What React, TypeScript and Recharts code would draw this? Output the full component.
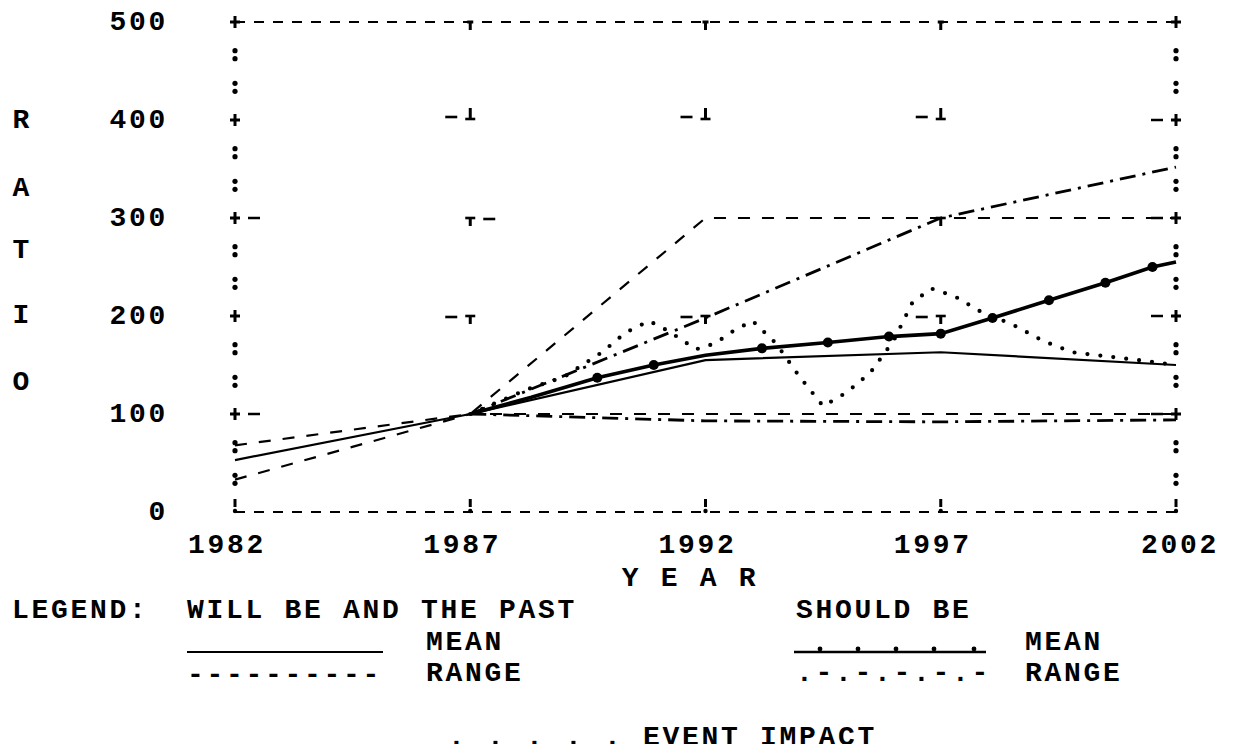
import React from 'react';
import { LineChart, Line, XAxis, YAxis, ReferenceDot } from 'recharts';

const FONT = '"Liberation Mono", "DejaVu Sans Mono", monospace';
const FS = 28;
const LS = 2.7;

// ---- categories / ticks ----
const yearTicks = [1982, 1987, 1992, 1997, 2002];
const topYearTicks = [1987, 1992, 1997];
const valueTicks = [0, 100, 200, 300, 400, 500];
const ratioLetters = ['R', 'A', 'T', 'I', 'O'];

// ---- WILL BE AND THE PAST ----
const willYears = [1982, 1987, 1992, 1997, 2002];
const willMeanValues = [53, 100, 155, 163, 150];
const willRangeHighValues = [68, 100, 300, 300, 300];
const willRangeLowValues = [33, 100, 100, 100, 100];

// ---- SHOULD BE ----
const shouldRangeYears = [1987, 1992, 1997, 2002];
const shouldRangeHighValues = [100, 198, 300, 352];
const shouldRangeLowValues = [100, 93, 92, 94];

const shouldMeanYears = [1987, 1988.3, 1989.7, 1990.9, 1992, 1993.2, 1994.6, 1995.9, 1997, 1998.1, 1999.3, 2000.5, 2001.5, 2002];
const shouldMeanValues = [100, 117, 137, 150, 160, 167, 173, 179, 182, 198, 216, 234, 250, 255];
const shouldMeanMarkerYears = [1989.7, 1990.9, 1993.2, 1994.6, 1995.9, 1997, 1998.1, 1999.3, 2000.5, 2001.5];

// ---- EVENT IMPACT ----
const eventYears = [1987, 1988.2, 1989, 1989.8, 1990.3, 1990.8, 1991.2, 1991.8, 1992.2, 1992.6, 1993, 1993.5, 1994, 1994.5, 1995, 1995.5, 1996, 1996.4, 1996.8, 1997.3, 1997.9, 1998.5, 1999.2, 1999.8, 2000.5, 2001.2, 2002];
const eventValues = [100, 125, 138, 163, 183, 195, 185, 166, 172, 185, 195, 172, 138, 108, 122, 142, 175, 214, 228, 220, 203, 192, 174, 163, 159, 155, 150];

// ---- grid glyph marks inside the frame ----
const gridMarkYears = [1987, 1992, 1997, 1987, 1997, 1987, 1992, 1997];
const gridMarkValues = [400, 400, 400, 300, 300, 200, 200, 200];
const gridMarkGlyphs = ['-L', '-L', '-L', 'T-', 'T', '-T', '-T', '-T'];

const toRows = (years: number[], values: number[]) => years.map((year, i) => ({ year, v: values[i] }));

const willMean = toRows(willYears, willMeanValues);
const willHigh = toRows(willYears, willRangeHighValues);
const willLow = toRows(willYears, willRangeLowValues);
const shouldHigh = toRows(shouldRangeYears, shouldRangeHighValues);
const shouldLow = toRows(shouldRangeYears, shouldRangeLowValues);
const shouldMean = toRows(shouldMeanYears, shouldMeanValues);
const eventImpact = toRows(eventYears, eventValues);

const allValueTicks: number[] = [];
valueTicks.forEach((v, i) => {
  allValueTicks.push(v);
  if (i < valueTicks.length - 1) {
    allValueTicks.push(v + 100 / 3);
    allValueTicks.push(v + 200 / 3);
  }
});

const isMajor = (v: number) => Math.abs(v - Math.round(v / 100) * 100) < 0.01;

const textStyle: React.CSSProperties = {
  fontFamily: FONT,
  fontSize: FS,
  fontWeight: 'bold',
  letterSpacing: LS,
  fill: '#000',
};

const Plus = ({ x, y }: { x: number; y: number }) => (
  <g stroke="#000" strokeWidth={3}>
    <line x1={x} y1={y - 6} x2={x} y2={y + 6} />
    <line x1={x - 5} y1={y} x2={x + 5} y2={y} />
  </g>
);

const Colon = ({ x, y }: { x: number; y: number }) => (
  <g fill="#000">
    <circle cx={x} cy={y - 4} r={2.6} />
    <circle cx={x} cy={y + 4} r={2.6} />
  </g>
);

const LeftTick = (props: any) => {
  const { x, y, payload } = props;
  const v = payload.value;
  if (!isMajor(v)) return <Colon x={x} y={y} />;
  const rv = Math.round(v);
  return (
    <g>
      <text x={x - 67} y={y} textAnchor="end" dominantBaseline="central" style={textStyle}>
        {rv}
      </text>
      {rv > 0 && <Plus x={x} y={y} />}
      {(rv === 300 || rv === 100) && (
        <line x1={x + 13} y1={y} x2={x + 25} y2={y} stroke="#000" strokeWidth={2.5} />
      )}
    </g>
  );
};

const RightTick = (props: any) => {
  const { x, y, payload } = props;
  const v = payload.value;
  if (!isMajor(v)) return <Colon x={x} y={y} />;
  const rv = Math.round(v);
  if (rv === 0) return <g />;
  return (
    <g>
      <Plus x={x} y={y} />
      {rv < 500 && <line x1={x - 25} y1={y} x2={x - 13} y2={y} stroke="#000" strokeWidth={2.5} />}
    </g>
  );
};

const BottomTick = (props: any) => {
  const { x, y, payload } = props;
  const v = payload.value;
  const dx = v === 2002 ? 4 : -8;
  return (
    <g>
      <line x1={x} y1={y - 13} x2={x} y2={y - 5} stroke="#000" strokeWidth={3} />
      <circle cx={x} cy={y - 1} r={2.2} fill="#000" />
      <text x={x + dx} y={y + 33} textAnchor="middle" dominantBaseline="central" style={textStyle}>
        {v}
      </text>
    </g>
  );
};

const TopTick = (props: any) => {
  const { x, y } = props;
  return (
    <g stroke="#000" strokeWidth={3}>
      <line x1={x} y1={y} x2={x} y2={y + 8} />
      <line x1={x - 3} y1={y} x2={x + 3} y2={y} />
    </g>
  );
};

const makeGridGlyph = (glyph: string) => (props: any) => {
  const { cx, cy } = props;
  const s = { stroke: '#000', strokeWidth: 2.6 };
  if (glyph === '-L') {
    return (
      <g>
        <line x1={cx - 25} y1={cy - 3} x2={cx - 13} y2={cy - 3} {...s} />
        <line x1={cx} y1={cy - 12} x2={cx} y2={cy - 1} {...s} strokeWidth={3} />
        <line x1={cx - 5} y1={cy - 1} x2={cx + 5} y2={cy - 1} {...s} />
      </g>
    );
  }
  const tee = (
    <g>
      <line x1={cx - 5} y1={cy} x2={cx + 5} y2={cy} {...s} />
      <line x1={cx} y1={cy} x2={cx} y2={cy + 8} {...s} strokeWidth={3} />
    </g>
  );
  return (
    <g>
      {tee}
      {glyph === '-T' && <line x1={cx - 25} y1={cy + 1} x2={cx - 13} y2={cy + 1} {...s} />}
      {glyph === 'T-' && <line x1={cx + 13} y1={cy + 1} x2={cx + 25} y2={cy + 1} {...s} />}
    </g>
  );
};

const MeanDot = (props: any) => {
  const { cx, cy, payload, index } = props;
  const show = shouldMeanMarkerYears.some((yy) => Math.abs(yy - payload.year) < 0.01);
  if (!show) return <g key={`md-${index}`} />;
  return <circle key={`md-${index}`} cx={cx} cy={cy} r={5} fill="#000" stroke="none" />;
};

const ratioY = [112, 180, 242, 307, 374];

export default function App() {
  return (
    <div style={{ position: 'relative', width: 1218, height: 736 }}>
      <LineChart width={1218} height={736} margin={{ top: 0, right: 0, bottom: 192, left: 0 }}>
        <XAxis
          xAxisId="bottom"
          type="number"
          dataKey="year"
          domain={[1982, 2002]}
          ticks={yearTicks}
          interval={0}
          height={40}
          tickSize={0}
          tickMargin={0}
          tickLine={false}
          tick={BottomTick}
          axisLine={{ stroke: '#000', strokeWidth: 2.2, strokeDasharray: '10 9' }}
        />
        <XAxis
          xAxisId="top"
          orientation="top"
          type="number"
          dataKey="year"
          domain={[1982, 2002]}
          ticks={topYearTicks}
          interval={0}
          height={14}
          tickSize={0}
          tickMargin={0}
          tickLine={false}
          tick={TopTick}
          axisLine={{ stroke: '#000', strokeWidth: 2.2, strokeDasharray: '10 9' }}
        />
        <YAxis
          yAxisId="left"
          type="number"
          domain={[0, 500]}
          ticks={allValueTicks}
          interval={0}
          width={227}
          tickSize={0}
          tickMargin={0}
          tickLine={false}
          axisLine={false}
          tick={LeftTick}
        />
        <YAxis
          yAxisId="right"
          orientation="right"
          type="number"
          domain={[0, 500]}
          ticks={allValueTicks}
          interval={0}
          width={50}
          tickSize={0}
          tickMargin={0}
          tickLine={false}
          axisLine={false}
          tick={RightTick}
        />
        {gridMarkYears.map((yr, i) => (
          <ReferenceDot
            key={`gm-${i}`}
            xAxisId="bottom"
            yAxisId="left"
            x={yr}
            y={gridMarkValues[i]}
            r={1}
            shape={makeGridGlyph(gridMarkGlyphs[i])}
          />
        ))}
        <Line xAxisId="top" yAxisId="right" data={willMean} dataKey="v" type="linear" stroke="none" strokeWidth={0} dot={false} activeDot={false} isAnimationActive={false} />
        <Line xAxisId="bottom" yAxisId="left" data={willHigh} dataKey="v" type="linear" stroke="#000" strokeWidth={2.2} strokeDasharray="12 12" dot={false} activeDot={false} isAnimationActive={false} />
        <Line xAxisId="bottom" yAxisId="left" data={willLow} dataKey="v" type="linear" stroke="#000" strokeWidth={2.2} strokeDasharray="12 12" dot={false} activeDot={false} isAnimationActive={false} />
        <Line xAxisId="bottom" yAxisId="left" data={shouldHigh} dataKey="v" type="linear" stroke="#000" strokeWidth={2.8} strokeDasharray="16 7 3 7" dot={false} activeDot={false} isAnimationActive={false} />
        <Line xAxisId="bottom" yAxisId="left" data={shouldLow} dataKey="v" type="linear" stroke="#000" strokeWidth={2.8} strokeDasharray="16 7 3 7" dot={false} activeDot={false} isAnimationActive={false} />
        <Line xAxisId="bottom" yAxisId="left" data={willMean} dataKey="v" type="linear" stroke="#000" strokeWidth={2.2} dot={false} activeDot={false} isAnimationActive={false} />
        <Line xAxisId="bottom" yAxisId="left" data={shouldMean} dataKey="v" type="linear" stroke="#000" strokeWidth={3.6} dot={MeanDot} activeDot={false} isAnimationActive={false} />
        <Line xAxisId="bottom" yAxisId="left" data={eventImpact} dataKey="v" type="linear" stroke="#000" strokeWidth={4.2} strokeLinecap="round" strokeDasharray="0 13" dot={false} activeDot={false} isAnimationActive={false} />
      </LineChart>
      <svg
        width={1218}
        height={744}
        style={{ position: 'absolute', left: 0, top: 0, pointerEvents: 'none', overflow: 'visible' }}
      >
        {ratioLetters.map((ch, i) => (
          <text key={ch + i} x={13} y={ratioY[i]} textAnchor="middle" dominantBaseline="central" style={{ ...textStyle, letterSpacing: 0 }}>
            {ch}
          </text>
        ))}
        <text x={682} y={570} textAnchor="middle" dominantBaseline="central" style={textStyle}>
          Y E A R
        </text>
        <text x={4} y={602} dominantBaseline="central" style={textStyle}>LEGEND:</text>
        <text x={179} y={602} dominantBaseline="central" style={textStyle}>WILL BE AND THE PAST</text>
        <text x={788} y={602} dominantBaseline="central" style={textStyle}>SHOULD BE</text>

        <line x1={179} y1={644} x2={375} y2={644} stroke="#000" strokeWidth={2} />
        <text x={418} y={634} dominantBaseline="central" style={textStyle}>MEAN</text>
        <text x={179} y={675} style={textStyle}>----------</text>
        <text x={418} y={665} dominantBaseline="central" style={textStyle}>RANGE</text>

        <line x1={786} y1={644} x2={978} y2={644} stroke="#000" strokeWidth={2.5} />
        {[812, 850, 888, 926, 966].map((dx) => (
          <circle key={dx} cx={dx} cy={641} r={2.4} fill="#000" />
        ))}
        <text x={1017} y={634} dominantBaseline="central" style={textStyle}>MEAN</text>
        <text x={788} y={673} style={textStyle}>.-.-.-.-.-</text>
        <text x={1017} y={665} dominantBaseline="central" style={textStyle}>RANGE</text>

        <text x={440} y={729} dominantBaseline="central" style={textStyle}>. . . . . EVENT IMPACT</text>
      </svg>
    </div>
  );
}
